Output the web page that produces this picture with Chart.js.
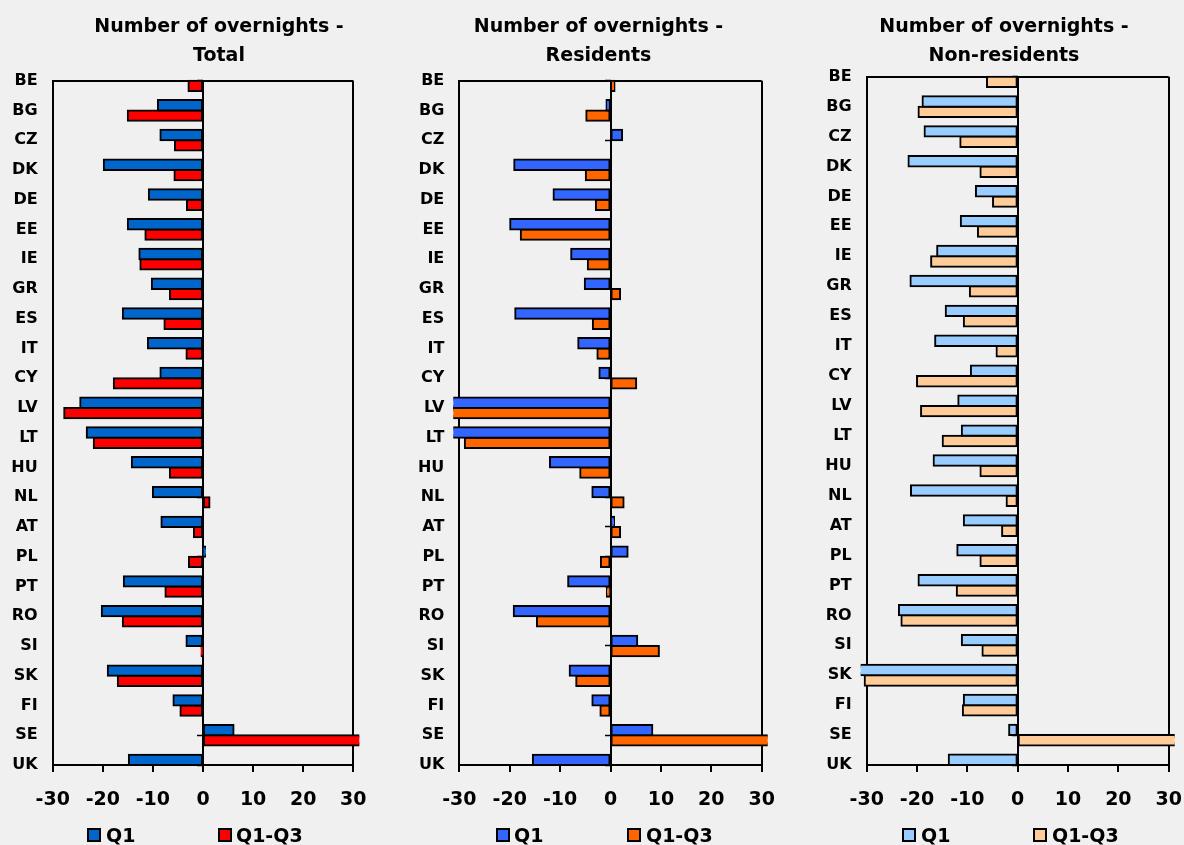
<!DOCTYPE html>
<html>
<head>
<meta charset="utf-8">
<title>Number of overnights</title>
<script src="https://cdn.jsdelivr.net/npm/chart.js@4.4.1/dist/chart.umd.min.js"></script>
<style>
  html, body {
    margin: 0;
    padding: 0;
    width: 1184px;
    height: 845px;
    overflow: hidden;
    background: #f0f0f0;
    position: relative;
    font-family: 'DejaVu Sans', sans-serif;
    color: #000;
  }
  canvas { position: absolute; top: 0; }
  .panel-title {
    position: absolute;
    top: 11px;
    transform: translateX(-50%);
    font-weight: bold;
    font-size: 19px;
    line-height: 28.5px;
    text-align: center;
    white-space: nowrap;
  }
  .legend-box {
    position: absolute;
    top: 828px;
    width: 14px;
    height: 14px;
    box-sizing: border-box;
    border: 2px solid #000;
  }
  .legend-text {
    position: absolute;
    top: 825.8px;
    font-weight: bold;
    font-size: 19px;
    line-height: 19px;
    white-space: nowrap;
  }
</style>
</head>
<body>
<script>
// Countries on the category axis, top to bottom
const categories = ['BE', 'BG', 'CZ', 'DK', 'DE', 'EE', 'IE', 'GR', 'ES', 'IT', 'CY', 'LV',
                    'LT', 'HU', 'NL', 'AT', 'PL', 'PT', 'RO', 'SI', 'SK', 'FI', 'SE', 'UK'];

// Change in number of overnights, % (null = not available)
const totalQ1      = [null, -9.0, -8.5, -19.8, -10.8, -15.0, -12.7, -10.2, -16.0, -11.0, -8.5, -24.5,
                      -23.2, -14.2, -10.0, -8.3, 0.4, -15.8, -20.2, -3.3, -19.0, -5.9, 6.1, -14.8];
const totalQ1Q3    = [-2.9, -15.0, -5.6, -5.7, -3.2, -11.5, -12.5, -6.6, -7.7, -3.3, -17.8, -27.7,
                      -21.8, -6.6, 1.3, -1.8, -2.8, -7.5, -16.0, -0.3, -17.0, -4.5, 38.0, null];

const residentsQ1   = [null, -0.8, 2.3, -19.1, -11.3, -19.9, -7.8, -5.1, -18.9, -6.4, -2.2, -33.0,
                       -32.0, -12.0, -3.6, 0.7, 3.4, -8.4, -19.2, 5.3, -8.1, -3.6, 8.3, -15.4];
const residentsQ1Q3 = [0.8, -4.8, 0, -4.9, -2.9, -17.8, -4.5, 1.9, -3.5, -2.6, 5.1, -34.0,
                       -28.9, -6.0, 2.6, 1.9, -1.9, -0.7, -14.6, 9.6, -6.8, -2.0, 36.0, null];

const nonResidentsQ1   = [null, -18.9, -18.5, -21.7, -8.3, -11.3, -16.0, -21.3, -14.3, -16.4, -9.3, -11.8,
                          -11.1, -16.7, -21.2, -10.7, -12.0, -19.7, -23.6, -11.1, -33.0, -10.7, -1.7, -13.7];
const nonResidentsQ1Q3 = [-6.1, -19.7, -11.4, -7.4, -4.9, -7.9, -17.2, -9.5, -10.7, -4.2, -20.0, -19.2,
                          -14.9, -7.4, -2.2, -3.1, -7.4, -12.1, -23.1, -7.0, -30.4, -10.9, 42.0, null];

// Value axis
const axisMin = -30;
const axisMax = 30;
const axisStep = 10;

const seriesLabels = ['Q1', 'Q1-Q3'];

// Panel definitions: titles, series, colours and where each panel sits on the page
const panels = [
  {
    title: ['Number of overnights -', 'Total'],
    titleX: 219,
    series: [totalQ1, totalQ1Q3],
    colors: ['#0066cc', '#ff0000'],
    frame: { canvasLeft: 0, plotLeft: 52.7, plotRight: 353.3, plotTop: 80.7 },
    legend: [{ box: 87, text: 106 }, { box: 218, text: 236 }]
  },
  {
    title: ['Number of overnights -', 'Residents'],
    titleX: 598.5,
    series: [residentsQ1, residentsQ1Q3],
    colors: ['#3366ff', '#ff6600'],
    frame: { canvasLeft: 395, plotLeft: 459.3, plotRight: 761.7, plotTop: 80.7 },
    legend: [{ box: 496, text: 514 }, { box: 627, text: 646 }]
  },
  {
    title: ['Number of overnights -', 'Non-residents'],
    titleX: 1004,
    series: [nonResidentsQ1, nonResidentsQ1Q3],
    colors: ['#99ccff', '#ffcc99'],
    frame: { canvasLeft: 790, plotLeft: 866.7, plotRight: 1168.7, plotTop: 76.7 },
    legend: [{ box: 902, text: 921 }, { box: 1033, text: 1052 }]
  }
];

const PAGE_HEIGHT = 845;
const CANVAS_WIDTH = 420;
const PLOT_BOTTOM = 765;
const X_AXIS_HEIGHT = 60;
const FRAME_VALUES = [axisMin, 0, axisMax];

Chart.defaults.font.family = "'DejaVu Sans', sans-serif";
Chart.defaults.color = '#000';

function addTitle(panel) {
  const div = document.createElement('div');
  div.className = 'panel-title';
  div.style.left = panel.titleX + 'px';
  panel.title.forEach((line, i) => {
    if (i > 0) div.appendChild(document.createElement('br'));
    div.appendChild(document.createTextNode(line));
  });
  document.body.appendChild(div);
}

function addLegend(panel, chart) {
  chart.data.datasets.forEach((ds, i) => {
    const box = document.createElement('div');
    box.className = 'legend-box';
    box.style.left = panel.legend[i].box + 'px';
    box.style.background = ds.backgroundColor;
    document.body.appendChild(box);
    const text = document.createElement('div');
    text.className = 'legend-text';
    text.style.left = panel.legend[i].text + 'px';
    text.textContent = ds.label;
    document.body.appendChild(text);
  });
}

function buildPanel(panel) {
  const f = panel.frame;
  const canvas = document.createElement('canvas');
  canvas.width = CANVAS_WIDTH;
  canvas.height = PAGE_HEIGHT;
  canvas.style.left = f.canvasLeft + 'px';
  document.body.appendChild(canvas);

  const categoryAxisWidth = f.plotLeft - f.canvasLeft;
  const padRight = f.canvasLeft + CANVAS_WIDTH - f.plotRight;
  const padBottom = PAGE_HEIGHT - PLOT_BOTTOM - X_AXIS_HEIGHT;

  const chart = new Chart(canvas, {
    type: 'bar',
    data: {
      labels: categories,
      datasets: panel.series.map((values, i) => ({
        label: seriesLabels[i],
        data: values,
        backgroundColor: panel.colors[i],
        borderColor: '#000',
        borderWidth: 2,
        borderSkipped: false,
        // outline sits centred on the bar edge, so neighbouring outlines merge
        inflateAmount: 1,
        categoryPercentage: 0.696,
        barPercentage: 1.0,
        xAxisID: 'x',
        yAxisID: 'y',
        // bars running past the axis range are cut just outside the frame
        clip: { left: 6, right: 6, top: false, bottom: false }
      }))
    },
    options: {
      indexAxis: 'y',
      responsive: false,
      animation: false,
      devicePixelRatio: 1,
      layout: { padding: { left: 0, right: padRight, top: f.plotTop, bottom: padBottom } },
      plugins: {
        legend: { display: false },
        title: { display: false },
        tooltip: { enabled: false }
      },
      scales: {
        x: {
          type: 'linear',
          position: 'bottom',
          min: axisMin,
          max: axisMax,
          ticks: {
            stepSize: axisStep,
            color: '#000',
            font: { size: 19, weight: 'bold' },
            padding: 16.5,
            maxRotation: 0
          },
          grid: {
            color: (c) => (c.tick && FRAME_VALUES.includes(c.tick.value)) ? '#000' : 'rgba(0,0,0,0)',
            lineWidth: 2,
            drawTicks: true,
            tickLength: 7,
            tickColor: '#000',
            tickWidth: 2
          },
          border: { display: true, color: '#000', width: 2 },
          afterFit: (scale) => { scale.height = X_AXIS_HEIGHT; }
        },
        y: {
          type: 'category',
          position: 'left',
          offset: false,
          ticks: {
            color: '#000',
            font: { size: 16, weight: 'bold' },
            padding: 15,
            autoSkip: false
          },
          grid: {
            offset: false,
            drawTicks: false,
            // only the first line is kept: it closes the frame at the top
            color: (c) => c.index === 0 ? '#000' : 'rgba(0,0,0,0)',
            lineWidth: 2
          },
          border: { display: true, color: '#000', width: 2 },
          afterFit: (scale) => { scale.width = categoryAxisWidth; }
        },
        // category tick marks sitting on the zero line
        yZero: {
          axis: 'y',
          type: 'category',
          position: { x: 0 },
          offset: false,
          ticks: { display: false },
          grid: {
            offset: false,
            drawOnChartArea: false,
            drawTicks: true,
            tickLength: 6,
            tickColor: '#000',
            tickWidth: 1.5
          },
          border: { display: false }
        }
      }
    }
  });

  addTitle(panel);
  addLegend(panel, chart);
  return chart;
}

panels.forEach(buildPanel);
</script>
</body>
</html>
